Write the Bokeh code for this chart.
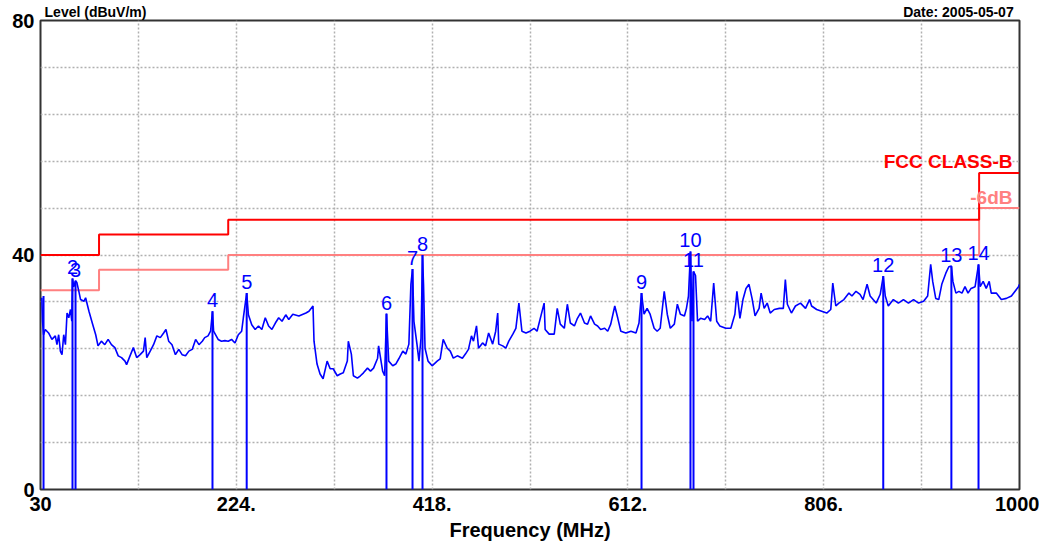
from bokeh.plotting import figure
from bokeh.models import Range1d, FixedTicker, Label, LinearAxis
from bokeh.embed import file_html
from bokeh.resources import INLINE
from bokeh.core.properties import value

# ---------------- data ----------------
trace_freq = [
    31.3, 32, 33, 34.7, 38, 41.3, 44.7, 46.3, 48, 49.7, 51.3, 53, 54.7, 56.3, 58, 59.7, 61, 61.7, 63, 64.7,
    66, 68, 69.7, 73, 74.7, 78, 81.3, 84.7, 87, 90.3, 93.7, 97, 100.3, 103.7, 107, 110.3, 113.7, 115.3, 118.7, 122,
    125.3, 128.7, 132, 133.7, 135.3, 138.7, 142, 145.3, 148.7, 152, 154.3, 157, 160.3, 163.7, 167, 170.3, 173.7, 177, 180.3, 183.7,
    187, 190.3, 192.7, 196, 198.5, 200.4, 201.5, 206, 209.3, 212.7, 216, 219.3, 222.7, 226, 229.3, 231, 234.3, 236, 239.3, 242.7,
    246, 249.3, 252.7, 256, 259.3, 262.7, 266, 269.3, 273, 276, 280, 286, 293, 296, 300, 301, 304, 307, 310, 314,
    317, 320, 324, 327, 330, 334, 335, 338, 340, 344, 347, 350, 354, 357, 360, 364, 365, 369, 371, 372.8,
    375, 379, 382, 385, 389, 392, 395, 397, 398.6, 400, 403, 405, 407, 408.5, 409.5, 411, 414, 418, 423, 426,
    429, 433, 436, 439, 443, 448, 451, 454, 457, 459, 462, 464, 468, 471, 474, 478, 481, 483, 484, 488,
    491, 494, 498, 501, 504, 507, 511, 515, 519, 522, 529, 530, 534, 539, 542, 545, 549, 552, 555, 559,
    562, 565, 569, 572, 575, 579, 582, 585, 589, 592, 595, 599, 602, 605, 610, 615, 620, 623, 625.5, 628,
    631, 634, 638, 641, 644, 648, 651, 654, 658, 661, 664, 668, 670, 672, 674, 675.5, 677, 679, 681, 684,
    688, 691, 694, 697, 700, 703, 709, 714, 718, 720, 723, 726, 729, 732, 735, 738, 742, 744, 747, 750,
    753, 757, 762, 766, 768, 770, 774, 778, 783, 788, 792, 794, 799, 804, 809, 813, 815, 818, 821, 826,
    831, 834, 838, 842, 845, 849, 852, 855, 858, 862, 865, 867, 870, 875, 880, 885, 890, 895, 900, 905,
    909, 912, 914, 917, 920, 923, 927, 930, 932.5, 934, 937, 940, 943, 946, 949, 952, 956, 959.4, 961, 964,
    967, 970, 972, 977, 982, 987, 992, 999, 1000,
]
trace_level = [
    32.7, 28.7, 26.4, 27.3, 26.7, 25.6, 26.2, 24.7, 26.4, 23.6, 23.0, 26.4, 24.7, 30.1, 29.3, 30.7, 28.7, 36.0, 34.6, 35.6,
    35.3, 33.8, 32.4, 32.1, 32.7, 30.4, 28.4, 26.4, 24.5, 25.3, 24.7, 25.6, 24.7, 24.2, 22.8, 22.5, 21.9, 21.3, 22.8, 24.2,
    22.5, 23.0, 23.6, 25.9, 22.5, 23.6, 24.7, 26.2, 25.9, 26.7, 27.3, 25.3, 24.7, 23.0, 23.9, 23.0, 22.8, 23.6, 23.9, 25.6,
    24.7, 25.3, 25.9, 26.2, 27.0, 30.4, 27.0, 25.6, 25.3, 25.4, 25.3, 25.6, 25.0, 26.4, 27.0, 29.3, 33.5, 29.8, 28.1, 27.3,
    27.9, 27.3, 29.3, 27.9, 27.3, 28.4, 29.3, 28.7, 29.8, 29.0, 29.9, 29.6, 30.1, 30.4, 31.3, 25.3, 21.4, 19.7, 18.9, 21.9,
    20.6, 20.6, 19.4, 19.7, 19.9, 21.9, 25.3, 23.1, 19.4, 19.0, 19.4, 19.9, 20.7, 20.2, 20.7, 22.4, 24.5, 20.2, 19.4, 30.0,
    21.9, 21.1, 21.4, 22.3, 23.6, 23.1, 24.8, 35.0, 37.6, 28.7, 24.8, 21.9, 25.8, 40.0, 35.0, 24.1, 21.9, 21.1, 21.9, 22.3,
    25.6, 24.1, 23.6, 22.4, 22.8, 22.4, 23.1, 23.9, 26.2, 25.3, 27.9, 24.1, 25.0, 24.5, 26.7, 24.8, 27.0, 30.1, 24.8, 24.5,
    24.1, 25.3, 26.5, 27.5, 31.8, 27.0, 26.7, 27.0, 27.5, 27.0, 31.8, 27.3, 26.5, 26.5, 30.9, 28.2, 27.5, 31.6, 28.4, 27.9,
    29.2, 30.1, 28.4, 28.2, 29.6, 28.2, 27.9, 27.3, 27.5, 27.0, 28.2, 31.3, 29.2, 27.0, 26.7, 27.0, 26.7, 28.4, 33.5, 29.9,
    30.9, 29.9, 27.5, 27.0, 27.5, 33.8, 29.9, 27.5, 28.2, 31.6, 29.9, 29.6, 30.9, 33.0, 40.6, 28.7, 37.2, 36.5, 28.7, 29.2,
    29.0, 29.6, 28.7, 35.2, 28.7, 27.9, 27.5, 27.5, 29.9, 33.8, 29.2, 32.4, 34.3, 35.0, 32.6, 29.6, 30.9, 33.5, 30.9, 31.8,
    30.1, 30.7, 30.9, 30.9, 35.8, 31.6, 30.1, 31.3, 31.8, 30.9, 32.4, 31.3, 30.7, 30.4, 30.1, 30.7, 35.2, 31.3, 31.8, 32.4,
    33.5, 33.0, 33.8, 33.3, 32.4, 35.0, 33.0, 32.4, 31.8, 33.3, 36.4, 33.0, 31.3, 32.4, 31.8, 32.4, 31.8, 32.4, 31.8, 32.1,
    33.0, 38.4, 35.5, 32.6, 32.4, 35.0, 36.9, 38.0, 38.1, 35.5, 33.5, 33.8, 33.5, 34.6, 33.5, 34.3, 34.6, 38.4, 34.6, 35.5,
    34.3, 35.5, 33.5, 33.5, 32.4, 32.6, 33.0, 34.6, 35.0,
]

marker_freq = [33.0, 61.7, 64.7, 200.4, 234.3, 372.8, 398.6, 408.5, 625.5, 674.0, 677.0, 865.0, 932.5, 959.4]
marker_level = [33.0, 36.0, 35.6, 30.4, 33.5, 30.0, 37.6, 40.0, 33.5, 40.6, 37.2, 36.4, 38.1, 38.4]
marker_text = ["", "2", "3", "4", "5", "6", "7", "8", "9", "10", "11", "12", "13", "14"]

limit_freq = [30, 88, 216, 960, 1000]
fcc_class_b = [40, 43.5, 46, 54, 54]
fcc_class_b_6db = [34, 37.5, 40, 48, 48]

x_ticks = [30, 224, 418, 612, 806, 1000]
x_tick_labels = ["30", "224.", "418.", "612.", "806.", "1000"]
y_ticks = [0, 40, 80]
x_grid = [127, 224, 321, 418, 515, 612, 709, 806, 903]
y_grid = [8, 16, 24, 32, 40, 48, 56, 64, 72]

header_texts = ["Level (dBuV/m)", "Date: 2005-05-07"]

FONT = "Liberation Sans"
BLUE = "#0000ff"
RED = "#ff0000"
PINK = "#ff8080"

# centre positions (x-axis units) at which the two header texts sit in the top border
HEADER_POS = [84.5, 939.5]

p = figure(width=1039, height=546, x_range=Range1d(30, 1000), y_range=Range1d(0, 80),
           output_backend="svg", toolbar_location=None, title=None,
           min_border_left=40, min_border_right=20, min_border_top=18, min_border_bottom=57,
           background_fill_color="white", border_fill_color="white")

p.outline_line_color = "#333333"
p.outline_line_width = 2

# grid
p.xgrid.ticker = FixedTicker(ticks=x_grid)
p.ygrid.ticker = FixedTicker(ticks=y_grid)
for g in (p.xgrid, p.ygrid):
    g.grid_line_color = "#b0b0b0"
    g.grid_line_width = 1.5
    g.grid_line_dash = "2 2"

# axes
p.xaxis.ticker = FixedTicker(ticks=x_ticks)
p.xaxis.major_label_overrides = {t: l for t, l in zip(x_ticks, x_tick_labels)}
p.yaxis.ticker = FixedTicker(ticks=y_ticks)
p.xaxis.axis_label = "Frequency (MHz)"
for ax in (p.xaxis, p.yaxis):
    ax.major_tick_in = 0
    ax.major_tick_out = 0
    ax.minor_tick_in = 0
    ax.minor_tick_out = 0
    ax.axis_line_color = None
    ax.major_label_text_font = FONT
    ax.major_label_text_font_style = "bold"
    ax.major_label_text_font_size = "20px"
    ax.major_label_text_color = "black"
    ax.axis_label_text_font = FONT
    ax.axis_label_text_font_style = "bold"
    ax.axis_label_text_font_size = "20px"
    ax.axis_label_text_color = "black"
p.xaxis.major_label_standoff = 7
p.xaxis.axis_label_standoff = 5
p.yaxis.major_label_standoff = 6

# header texts, carried by a bare axis in the top border
header_axis = LinearAxis(ticker=FixedTicker(ticks=HEADER_POS),
                         major_label_overrides={t: s for t, s in zip(HEADER_POS, header_texts)},
                         major_tick_in=0, major_tick_out=0, minor_tick_in=0, minor_tick_out=0,
                         axis_line_color=None, major_label_standoff=1,
                         major_label_text_font=FONT, major_label_text_font_style="bold",
                         major_label_text_font_size="14px", major_label_text_color="black")
p.add_layout(header_axis, "above")

# limit lines
p.step(limit_freq, fcc_class_b_6db, mode="after", line_color=PINK, line_width=2)
p.step(limit_freq, fcc_class_b, mode="after", line_color=RED, line_width=2)

# trace and markers
p.line(trace_freq, trace_level, line_color=BLUE, line_width=1.6)
p.segment(x0=marker_freq, y0=[0] * len(marker_freq), x1=marker_freq, y1=marker_level,
          line_color=BLUE, line_width=2)
p.text(x=marker_freq, y=marker_level, text=marker_text, text_font=value(FONT),
       text_font_size=value("20px"), text_color=BLUE, text_align="center",
       text_baseline="alphabetic", y_offset=-11)

# limit labels (positive offset = upwards)
p.add_layout(Label(x=limit_freq[-1], y=fcc_class_b[-1], text="FCC CLASS-B", x_offset=-7, y_offset=11,
                   text_align="right", text_baseline="alphabetic", text_font=FONT,
                   text_font_style="bold", text_font_size="19px", text_color=RED))
p.add_layout(Label(x=limit_freq[-1], y=fcc_class_b_6db[-1], text="-6dB", x_offset=-7, y_offset=11,
                   text_align="right", text_baseline="alphabetic", text_font=FONT,
                   text_font_style="bold", text_font_size="19px", text_color=PINK))

open("out.html", "w").write(file_html(p, INLINE))
